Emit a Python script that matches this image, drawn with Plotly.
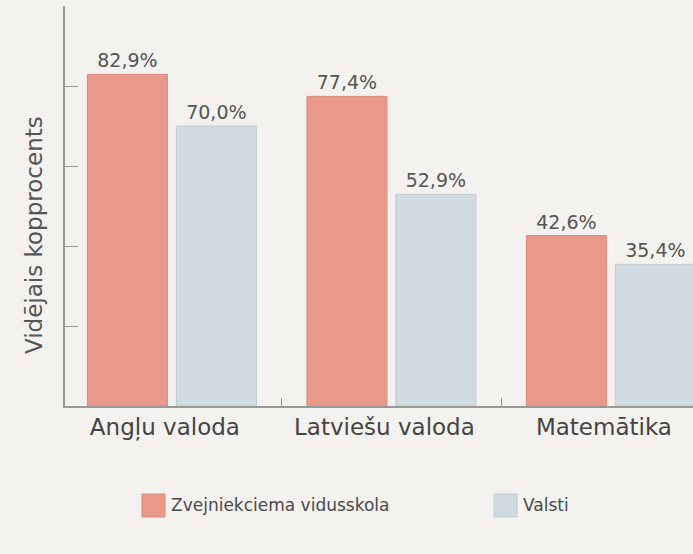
import plotly.graph_objects as go

categories = ["Angļu valoda", "Latviešu valoda", "Matemātika"]
school = [82.9, 77.4, 42.6]
national = [70.0, 52.9, 35.4]
series_names = ["Zvejniekciema vidusskola", "Valsti"]
colors = ["#e9998a", "#cfdbe1"]
edge_colors = ["#d98a7c", "#bfcbd2"]

def fmt(v):
    return f"{v:.1f}%".replace(".", ",")

FONT = "DejaVu Sans"
fig = go.Figure()
for name, vals, c, ec in zip(series_names, [school, national], colors, edge_colors):
    fig.add_trace(go.Bar(x=categories, y=vals, name=name,
                         marker=dict(color=c, line=dict(color=ec, width=1)),
                         text=[fmt(v) for v in vals], textposition="outside",
                         textfont=dict(size=19, color="#555555", family=FONT),
                         cliponaxis=False, showlegend=False))

# manual legend (paper coordinates)
L, T, PW, PH = 65, 6, 628, 400
def px(x):
    return (x - L) / PW
def py(y):
    return (T + PH - y) / PH

legend_items = [(142, series_names[0], colors[0], edge_colors[0]),
                (494, series_names[1], colors[1], edge_colors[1])]
for x0, name, c, ec in legend_items:
    fig.add_shape(type="rect", xref="paper", yref="paper",
                  x0=px(x0), x1=px(x0 + 23), y0=py(494), y1=py(517),
                  fillcolor=c, line=dict(color=ec, width=1))
    fig.add_annotation(xref="paper", yref="paper", x=px(x0 + 27), y=py(505),
                       xanchor="left", yanchor="middle", showarrow=False,
                       text=name, font=dict(size=17, color="#4a4a4a", family=FONT))

fig.add_annotation(xref="paper", yref="paper", x=px(34), y=py(235),
                   xanchor="center", yanchor="middle", showarrow=False, textangle=-90,
                   text="Vidējais kopprocents", font=dict(size=23, color="#555555", family=FONT))

fig.update_layout(
    width=693, height=554,
    paper_bgcolor="#f3f2ee", plot_bgcolor="#f3f2ee",
    margin=dict(l=L, r=0, t=T, b=554 - T - PH, autoexpand=False),
    barmode="group", bargap=0.19, bargroupgap=0.1,
    font=dict(family=FONT, color="#444444"),
    showlegend=False,
)
fig.update_xaxes(range=[-0.487, 2.374], showline=True, linecolor="#999999", linewidth=1.5,
                 ticks="inside", tickson="boundaries", ticklen=8, tickcolor="#999999",
                 tickfont=dict(size=23, color="#444444", family=FONT), showgrid=False,
                 ticklabelshift=-7, automargin=False)
fig.update_yaxes(range=[0, 100], showline=True, linecolor="#999999", linewidth=1.5,
                 ticks="inside", tickvals=[20, 40, 60, 80, 100], ticklen=13, tickcolor="#999999",
                 showticklabels=False, showgrid=False, zeroline=False, automargin=False)
fig.write_html("out.html", config={"displayModeBar": False},
               post_script="document.body.style.margin='0';document.body.style.background='#f3f2ee';")
